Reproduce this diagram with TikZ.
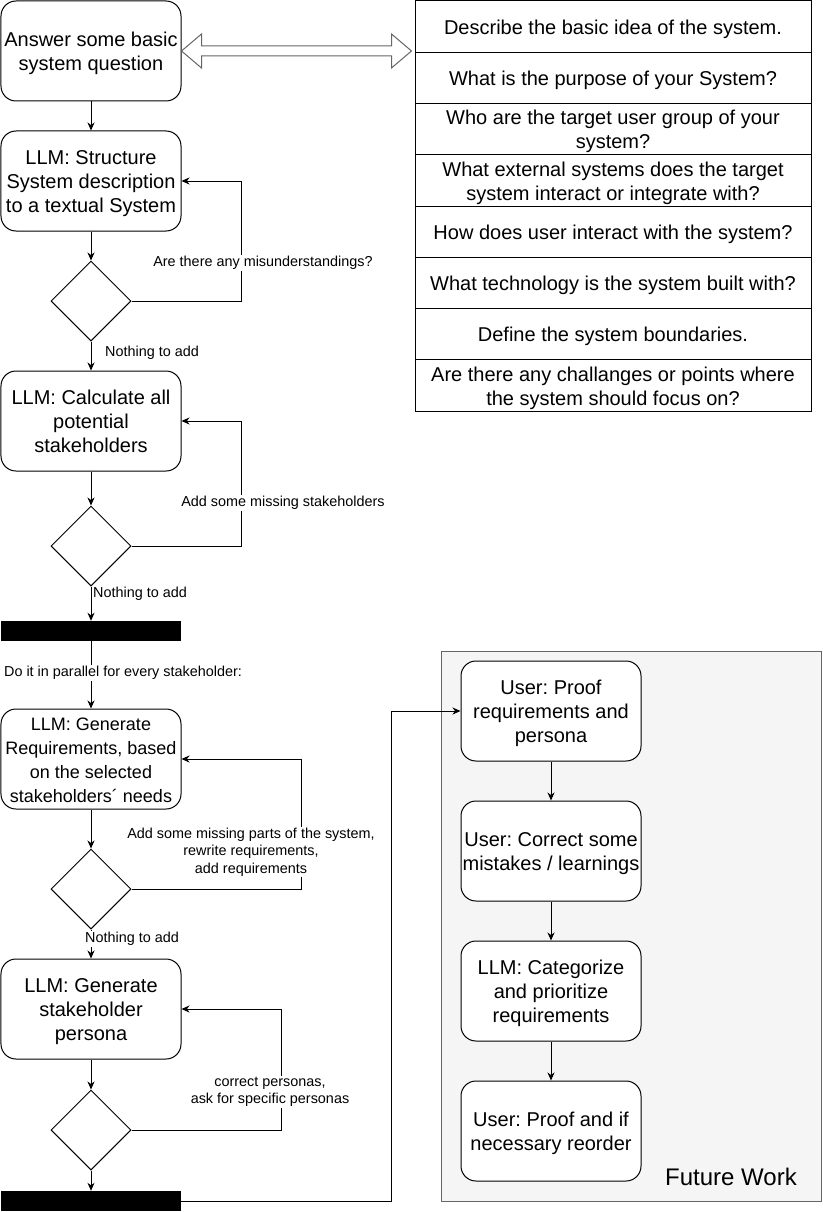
\documentclass[tikz,border=0pt]{standalone}
\usepackage{fontspec}
\setmainfont{Liberation Sans}
\usetikzlibrary{arrows.meta,shapes.geometric,calc}
\definecolor{strokegray}{HTML}{666666}
\definecolor{fillgray}{HTML}{F5F5F5}
\newcommand\tx[1]{\rule{0pt}{20.5pt}#1\rule[-5pt]{0pt}{5pt}}
\frenchspacing
\begin{document}
\frenchspacing
\begin{tikzpicture}[x=1pt,y=-1pt,
  box/.style={draw, line width=1pt, rounded corners=15pt, minimum width=180pt, minimum height=100pt, inner sep=0pt, align=center, fill=white, font=\fontsize{20}{24}\selectfont\frenchspacing},
  diam/.style={draw, line width=1pt, diamond, minimum width=80pt, minimum height=80pt, inner sep=0pt, fill=white},
  barbox/.style={fill=black, minimum width=180pt, minimum height=20pt, inner sep=0pt},
  rowbox/.style={draw, line width=1pt, rectangle, minimum width=396pt, minimum height=51.25pt, inner sep=0pt, align=center, font=\fontsize{20}{24}\selectfont\frenchspacing},
  lbl/.style={fill=white, inner sep=1pt, align=center, font=\fontsize{14.4}{17.5}\selectfont\frenchspacing},
  arr/.style={line width=1pt, -{Stealth[length=8pt,width=7pt,inset=2.5pt]}},
  dblarrow/.style={draw=strokegray, fill=white, line width=1pt, line join=miter}
]
\useasboundingbox (-1,-1) rectangle (821,1211);

% future work container
\node[draw=strokegray, fill=fillgray, line width=1pt, minimum width=380pt, minimum height=550pt, inner sep=0pt] (fw) at (630,925) {};
\node[font=\fontsize{24}{29}\selectfont, inner sep=0pt] (fwl) at (730,1176) {Future Work};

% left column
\node[box] (b1) at (90,50) {\tx{Answer some basic\\system question}};
\node[box] (b2) at (90,180) {\tx{LLM: Structure\\System description\\to a textual System}};
\node[diam] (d1) at (90,300) {};
\node[box] (b3) at (90,420) {\tx{LLM: Calculate all\\potential\\stakeholders}};
\node[diam] (d2) at (90,545) {};
\node[barbox] (k1) at (90,630) {};
\node[box, font=\fontsize{18}{24}\selectfont\frenchspacing] (b4) at (90,758) {\tx{LLM: Generate\\Requirements, based\\on the selected\\stakeholders´ needs}};
\node[diam] (d3) at (90,888) {};
\node[box] (b5) at (90,1008) {\tx{LLM: Generate\\stakeholder\\persona}};
\node[diam] (d4) at (90,1129) {};
\node[barbox] (k2) at (90,1200) {};

% right column boxes
\node[box] (fa) at (550,710) {\tx{User: Proof\\requirements and\\persona}};
\node[box] (fb) at (550,850) {\tx{User: Correct some\\mistakes / learnings}};
\node[box] (fc) at (550,990) {\tx{LLM: Categorize\\and prioritize\\requirements}};
\node[box] (fd) at (550,1130) {\tx{User: Proof and if\\necessary reorder}};

% question table
\node[rowbox] (q1) at (612,25.625) {\tx{Describe the basic idea of the system.}};
\node[rowbox] (q2) at (612,76.875) {\tx{What is the purpose of your System?}};
\node[rowbox] (q3) at (612,128.125) {\tx{Who are the target user group of your\\system?}};
\node[rowbox] (q4) at (612,179.375) {\tx{What external systems does the target\\system interact or integrate with?}};
\node[rowbox] (q5) at (612,230.625) {\tx{How does user interact with the system?}};
\node[rowbox] (q6) at (612,281.875) {\tx{What technology is the system built with?}};
\node[rowbox] (q7) at (612,333.125) {\tx{Define the system boundaries.}};
\node[rowbox] (q8) at (612,384.375) {\tx{Are there any challanges or points where\\the system should focus on?}};

% double arrow
\draw[dblarrow] (b1.east) -- ++(20,-17) -- ++(0,12) -- ++(190,0) -- ++(0,-12) -- ++(20,17) -- ++(-20,17) -- ++(0,-12) -- ++(-190,0) -- ++(0,12) -- cycle;

% connectors
\draw[arr] (b1.south) -- (b2.north);
\draw[arr] (b2.south) -- (d1.north);
\draw[arr] (d1.east) -- ++(110,0) |- (b2.east);
\draw[arr] (d1.south) -- (b3.north);
\draw[arr] (b3.south) -- (d2.north);
\draw[arr] (d2.east) -- ++(110,0) |- (b3.east);
\draw[arr] (d2.south) -- (k1.north);
\draw[arr] (k1.south) -- (b4.north);
\draw[arr] (b4.south) -- (d3.north);
\draw[arr] (d3.east) -- ++(170,0) |- (b4.east);
\draw[arr] (d3.south) -- (b5.north);
\draw[arr] (b5.south) -- (d4.north);
\draw[arr] (d4.east) -- ++(150,0) |- (b5.east);
\draw[arr] (d4.south) -- (k2.north);
\draw[arr] (k2.east) -- ++(210,0) |- (fa.west);
\draw[arr] (fa.south) -- (fb.north);
\draw[arr] (fb.south) -- (fc.north);
\draw[arr] (fc.south) -- (fd.north);

% labels
\node[lbl] (l1) at (262,262) {Are there any misunderstandings?};
\node[lbl] (l2) at (151,352) {Nothing to add};
\node[lbl] (l3) at (282,502) {Add some missing stakeholders};
\node[lbl] (l4) at (139,593) {Nothing to add};
\node[lbl] (l5) at (122,672) {Do it in parallel for every stakeholder:};
\node[lbl] (l6) at (250,851) {Add some missing parts of the system,\\rewrite requirements,\\add requirements};
\node[lbl] (l7) at (131,938) {Nothing to add};
\node[lbl] (l8) at (269,1091) {correct personas,\\ask for specific personas};
\end{tikzpicture}
\end{document}
